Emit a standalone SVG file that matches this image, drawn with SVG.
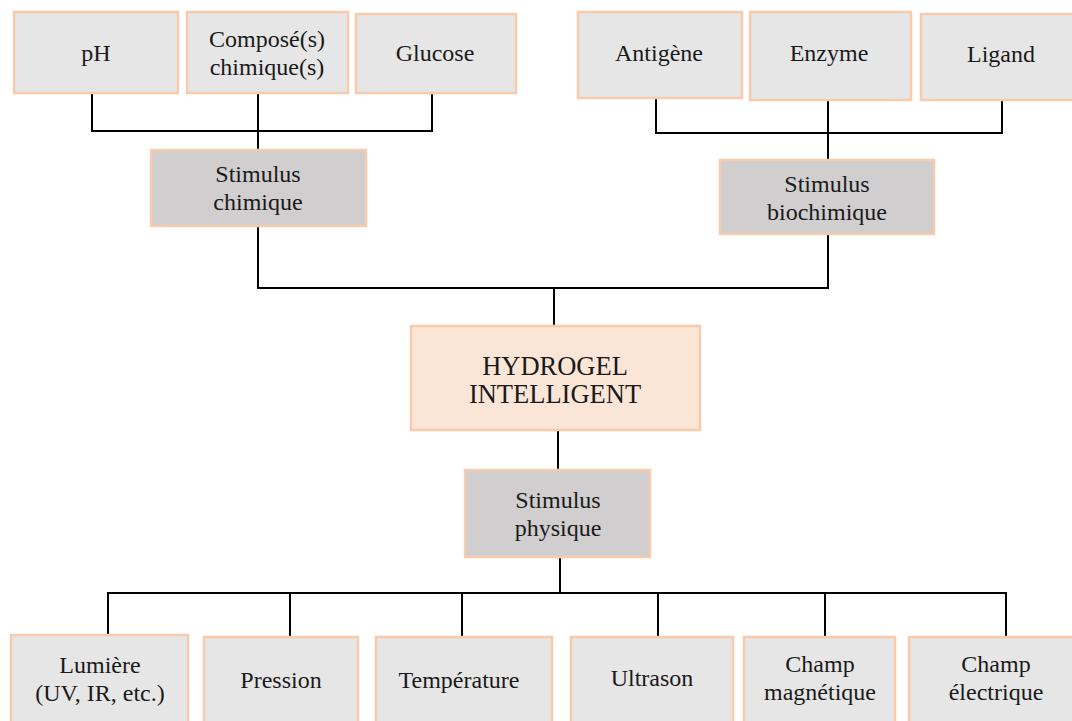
<svg xmlns="http://www.w3.org/2000/svg" width="1072" height="721" viewBox="0 0 1072 721">
<style>
.leaf{fill:#e6e6e6;stroke:#f8cbad;stroke-width:2.5}
.stim{fill:#d0cece;stroke:#f8cbad;stroke-width:2.5}
.main{fill:#fbe5d6;stroke:#f8cbad;stroke-width:2.5}
text{font-family:"Liberation Serif","Times New Roman",serif;font-size:24px;fill:#1a1a1a;text-anchor:middle}
.big{font-size:26.5px}
.conn{stroke:#000;stroke-width:2;fill:none}
</style>
<rect width="1072" height="721" fill="#fff"/>
<g id="connectors">
<path class="conn" d="M92 93V131H432V93M258 93V150"/>
<path class="conn" d="M656 98V133H1002V100M828 100V160"/>
<path class="conn" d="M258 226V288H828V234M554 288V326"/>
<path class="conn" d="M558 430V470"/>
<path class="conn" d="M560 557V593M108 634V593H1006V637M290 593V637M462 593V637M658 593V637M825 593V637"/>
</g>
<g id="ph"><rect class="leaf" x="14" y="12" width="164" height="81"/><text x="96" y="61">pH</text></g>
<g id="compose"><rect class="leaf" x="187" y="12" width="161" height="81"/><text x="267" y="47">Composé(s)</text><text x="267" y="75">chimique(s)</text></g>
<g id="glucose"><rect class="leaf" x="356" y="14" width="160" height="79"/><text x="435" y="61">Glucose</text></g>
<g id="antigene"><rect class="leaf" x="578" y="12" width="164" height="86"/><text x="659" y="61">Antigène</text></g>
<g id="enzyme"><rect class="leaf" x="750" y="12" width="161" height="88"/><text x="829" y="61">Enzyme</text></g>
<g id="ligand"><rect class="leaf" x="921" y="14" width="160" height="86"/><text x="1001" y="62">Ligand</text></g>
<g id="stim-chimique"><rect class="stim" x="151" y="150" width="215" height="76"/><text x="258" y="182">Stimulus</text><text x="258" y="210">chimique</text></g>
<g id="stim-biochimique"><rect class="stim" x="720" y="160" width="214" height="74"/><text x="827" y="192">Stimulus</text><text x="827" y="220">biochimique</text></g>
<g id="hydrogel"><rect class="main" x="411" y="326" width="289" height="104"/><text class="big" x="555" y="375">HYDROGEL</text><text class="big" x="555" y="403">INTELLIGENT</text></g>
<g id="stim-physique"><rect class="stim" x="465" y="470" width="185" height="87"/><text x="558" y="508">Stimulus</text><text x="558" y="536">physique</text></g>
<g id="lumiere"><rect class="leaf" x="11" y="635" width="177" height="100"/><text x="100" y="673">Lumière</text><text x="100" y="701">(UV, IR, etc.)</text></g>
<g id="pression"><rect class="leaf" x="204" y="637" width="154" height="97"/><text x="281" y="688">Pression</text></g>
<g id="temperature"><rect class="leaf" x="376" y="637" width="176" height="97"/><text x="459" y="688">Température</text></g>
<g id="ultrason"><rect class="leaf" x="571" y="637" width="162" height="97"/><text x="652" y="686">Ultrason</text></g>
<g id="champ-mag"><rect class="leaf" x="744" y="637" width="151" height="97"/><text x="820" y="672">Champ</text><text x="820" y="700">magnétique</text></g>
<g id="champ-elec"><rect class="leaf" x="909" y="637" width="170" height="97"/><text x="996" y="672">Champ</text><text x="996" y="700">électrique</text></g>
</svg>
